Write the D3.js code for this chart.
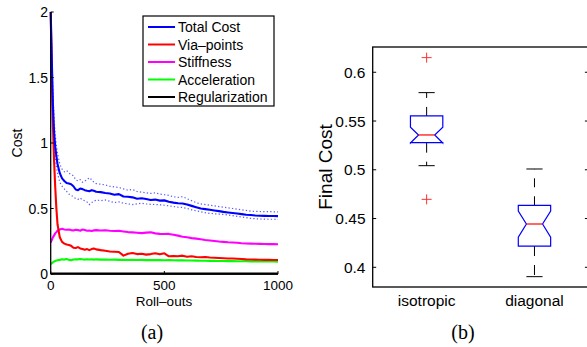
<!DOCTYPE html>
<html>
<head>
<meta charset="utf-8">
<script src="https://cdn.jsdelivr.net/npm/d3@7"></script>
<style>
  body { margin: 0; background: #fff; }
  text { font-family: "Liberation Sans", Arial, sans-serif; fill: #000; }
  .cap { font-family: "Liberation Serif", "DejaVu Serif", serif; }
</style>
</head>
<body>
<svg id="fig" width="587" height="347"></svg>
<script>
// ---- (a) cost over roll-outs ----
const rollouts = [0, 5, 10, 15, 20, 25, 30, 40, 50, 60, 70, 80, 90, 100, 110, 120, 130, 140, 150, 160,
  170, 180, 190, 200, 220, 240, 260, 280, 300, 320, 340, 360, 380, 400, 420, 440, 460, 480, 500, 520,
  540, 560, 580, 600, 620, 640, 660, 680, 700, 720, 740, 760, 780, 800, 820, 840, 860, 880, 900, 920,
  940, 960, 980, 1000];

const totalCost = [2.0, 1.62, 1.28, 1.08, 0.97, 0.9, 0.84, 0.77, 0.73, 0.71, 0.695, 0.69, 0.685, 0.67, 0.645, 0.64, 0.652, 0.648, 0.64, 0.635,
  0.632, 0.64, 0.635, 0.628, 0.625, 0.618, 0.615, 0.605, 0.61, 0.592, 0.59, 0.585, 0.575, 0.578, 0.572, 0.565, 0.568, 0.56, 0.562, 0.552,
  0.545, 0.54, 0.538, 0.53, 0.52, 0.51, 0.5, 0.495, 0.49, 0.485, 0.48, 0.474, 0.47, 0.466, 0.462, 0.457, 0.452, 0.45, 0.447, 0.445,
  0.444, 0.443, 0.443, 0.442];

const totalUpper = [2.0, 1.7, 1.38, 1.18, 1.06, 0.98, 0.92, 0.84, 0.8, 0.78, 0.79, 0.77, 0.76, 0.75, 0.72, 0.71, 0.72, 0.7, 0.71, 0.72,
  0.735, 0.72, 0.7, 0.69, 0.685, 0.68, 0.67, 0.665, 0.66, 0.65, 0.64, 0.645, 0.63, 0.625, 0.62, 0.615, 0.62, 0.61, 0.605, 0.6,
  0.59, 0.585, 0.59, 0.575, 0.56, 0.545, 0.535, 0.53, 0.525, 0.52, 0.515, 0.51, 0.505, 0.5, 0.495, 0.49, 0.485, 0.48, 0.478, 0.477,
  0.476, 0.476, 0.475, 0.474];

const totalLower = [2.0, 1.55, 1.18, 0.99, 0.89, 0.82, 0.77, 0.7, 0.67, 0.65, 0.63, 0.61, 0.6, 0.59, 0.575, 0.57, 0.58, 0.565, 0.56, 0.55,
  0.53, 0.545, 0.555, 0.565, 0.56, 0.565, 0.555, 0.545, 0.55, 0.54, 0.535, 0.53, 0.535, 0.54, 0.535, 0.532, 0.53, 0.528, 0.525, 0.52,
  0.515, 0.51, 0.508, 0.5, 0.49, 0.482, 0.475, 0.468, 0.463, 0.46, 0.457, 0.455, 0.45, 0.445, 0.44, 0.435, 0.43, 0.425, 0.422, 0.42,
  0.419, 0.418, 0.418, 0.417];

const viaPoints = [2.0, 1.5, 1.12, 0.86, 0.66, 0.5, 0.38, 0.28, 0.245, 0.232, 0.225, 0.222, 0.215, 0.2, 0.198, 0.205, 0.195, 0.19, 0.185, 0.19,
  0.182, 0.19, 0.195, 0.188, 0.182, 0.178, 0.172, 0.17, 0.168, 0.14, 0.155, 0.16, 0.152, 0.155, 0.148, 0.152, 0.158, 0.15, 0.158, 0.135,
  0.138, 0.135, 0.14, 0.132, 0.136, 0.13, 0.128, 0.13, 0.126, 0.124, 0.122, 0.12, 0.118, 0.118, 0.116, 0.114, 0.112, 0.111, 0.11, 0.109,
  0.108, 0.108, 0.107, 0.107];

const stiffness = [0.24, 0.26, 0.28, 0.295, 0.31, 0.32, 0.33, 0.34, 0.345, 0.34, 0.338, 0.34, 0.335, 0.332, 0.338, 0.335, 0.33, 0.34, 0.335, 0.33,
  0.332, 0.328, 0.333, 0.335, 0.332, 0.334, 0.33, 0.328, 0.33, 0.325, 0.32, 0.318, 0.315, 0.312, 0.316, 0.318, 0.31, 0.306, 0.305, 0.306,
  0.3, 0.293, 0.285, 0.28, 0.274, 0.27, 0.265, 0.26, 0.256, 0.252, 0.248, 0.245, 0.242, 0.24, 0.238, 0.235, 0.233, 0.232, 0.231, 0.23,
  0.229, 0.228, 0.228, 0.227];

const acceleration = [0.075, 0.082, 0.09, 0.095, 0.1, 0.103, 0.105, 0.108, 0.112, 0.11, 0.115, 0.108, 0.105, 0.11, 0.113, 0.112, 0.115, 0.112, 0.11, 0.113,
  0.111, 0.112, 0.11, 0.112, 0.11, 0.111, 0.109, 0.11, 0.108, 0.109, 0.107, 0.108, 0.107, 0.108, 0.106, 0.107, 0.106, 0.106, 0.105, 0.106,
  0.105, 0.104, 0.104, 0.103, 0.103, 0.102, 0.101, 0.101, 0.1, 0.1, 0.099, 0.099, 0.098, 0.098, 0.097, 0.097, 0.097, 0.096, 0.096, 0.095,
  0.095, 0.095, 0.095, 0.094];

// regularization hugs the x axis, fewer samples are enough
const regRollouts = [0, 100, 200, 300, 400, 500, 600, 700, 800, 900, 1000];
const regularization = [0.004, 0.004, 0.003, 0.003, 0.003, 0.003, 0.003, 0.003, 0.003, 0.003, 0.003];

const legendNames = ['Total Cost', 'Via\u2013points', 'Stiffness', 'Acceleration', 'Regularization'];
const legendColors = ['#0000ff', '#ff0000', '#ff00ff', '#00ff00', '#000000'];

const costTicks = [0, 0.5, 1, 1.5, 2];
const costTickLabels = ['0', '0.5', '1', '1.5', '2'];
const rolloutTicks = [0, 500, 1000];

// ---- (b) final cost boxplots ----
const groups = ['isotropic', 'diagonal'];
const q1 = [0.5278, 0.4218];
const median = [0.5357, 0.4444];
const q3 = [0.5552, 0.4636];
const notchLo = [0.5275, 0.4308];
const notchHi = [0.5436, 0.4577];
const whiskerLo = [0.5042, 0.3904];
const whiskerHi = [0.5791, 0.5008];
const outliers = [[0.615, 0.4697], []];

const finalTicks = [0.4, 0.45, 0.5, 0.55, 0.6];
const finalTickLabels = ['0.4', '0.45', '0.5', '0.55', '0.6'];

const svg = d3.select('#fig');

// ================= plot (a) =================
const xA = d3.scaleLinear().domain([0, 1000]).range([50.7, 278]);
const yA = d3.scaleLinear().domain([0, 2]).range([274, 12]);

const gA = svg.append('g');

const line = d3.line().x(d => xA(d[0])).y(d => yA(d[1]));
const zipped = (xs, ys) => xs.map((x, i) => [x, ys[i]]);

// std bounds (dotted)
[totalUpper, totalLower].forEach(s => {
  gA.append('path')
    .attr('d', line(zipped(rollouts, s)))
    .attr('fill', 'none')
    .attr('stroke', '#5a5aff')
    .attr('stroke-width', 1.2)
    .attr('stroke-dasharray', '1.3,2.2');
});

const series = [
  { vals: acceleration, xs: rollouts, color: '#00ff00' },
  { vals: stiffness, xs: rollouts, color: '#ff00ff' },
  { vals: viaPoints, xs: rollouts, color: '#ff0000' },
  { vals: totalCost, xs: rollouts, color: '#0000ff' },
  { vals: regularization, xs: regRollouts, color: '#000000' },
];
series.forEach(s => {
  gA.append('path')
    .attr('d', line(zipped(s.xs, s.vals)))
    .attr('fill', 'none')
    .attr('stroke', s.color)
    .attr('stroke-width', 2.1)
    .attr('stroke-linejoin', 'round');
});

// axes: only left and bottom lines, ticks pointing inward
gA.append('line').attr('x1', xA(0)).attr('x2', xA(0)).attr('y1', yA(2)).attr('y2', yA(0))
  .attr('stroke', '#000').attr('stroke-width', 1.3);
gA.append('line').attr('x1', xA(0)).attr('x2', xA(1000)).attr('y1', yA(0)).attr('y2', yA(0))
  .attr('stroke', '#000').attr('stroke-width', 1.5);

costTicks.forEach((t, i) => {
  gA.append('line').attr('x1', xA(0)).attr('x2', xA(0) + 3).attr('y1', yA(t)).attr('y2', yA(t))
    .attr('stroke', '#000');
  gA.append('text').attr('x', 48).attr('y', yA(t) + 5)
    .attr('text-anchor', 'end').attr('font-size', 14).text(costTickLabels[i]);
});
rolloutTicks.forEach(t => {
  gA.append('line').attr('x1', xA(t)).attr('x2', xA(t)).attr('y1', yA(0)).attr('y2', yA(0) - 3)
    .attr('stroke', '#000');
  gA.append('text').attr('x', xA(t)).attr('y', 290)
    .attr('text-anchor', 'middle').attr('font-size', 13.5).text(t);
});

gA.append('text').attr('x', 164).attr('y', 305.5).attr('text-anchor', 'middle')
  .attr('font-size', 13.5).text('Roll\u2013outs');
gA.append('text').attr('transform', 'translate(21.5,143) rotate(-90)')
  .attr('text-anchor', 'middle').attr('font-size', 14).text('Cost');

// legend
const leg = gA.append('g');
leg.append('rect').attr('x', 143).attr('y', 16).attr('width', 131).attr('height', 90)
  .attr('fill', '#fff').attr('stroke', '#000').attr('stroke-width', 1.2);
legendNames.forEach((name, i) => {
  const ly = 27 + i * 17.5;
  leg.append('line').attr('x1', 148).attr('x2', 175).attr('y1', ly).attr('y2', ly)
    .attr('stroke', legendColors[i]).attr('stroke-width', 2);
  leg.append('text').attr('x', 178).attr('y', ly + 5).attr('font-size', 14).text(name);
});

svg.append('text').attr('class', 'cap').attr('x', 152).attr('y', 339)
  .attr('text-anchor', 'middle').attr('font-size', 20).text('(a)');

// ================= plot (b) =================
const xB = d3.scaleLinear().domain([0.5, 2.5]).range([372.7, 588.4]);
const yB = d3.scaleLinear().domain([0.3798, 0.6259]).range([287, 47]);
const gB = svg.append('g');

gB.append('rect').attr('x', xB(0.5)).attr('y', yB(0.6259))
  .attr('width', xB(2.5) - xB(0.5)).attr('height', yB(0.3798) - yB(0.6259))
  .attr('fill', 'none').attr('stroke', '#000').attr('stroke-width', 1.3);

finalTicks.forEach((t, i) => {
  gB.append('line').attr('x1', xB(0.5)).attr('x2', xB(0.5) + 3.5).attr('y1', yB(t)).attr('y2', yB(t))
    .attr('stroke', '#000');
  gB.append('line').attr('x1', xB(2.5)).attr('x2', xB(2.5) - 3.5).attr('y1', yB(t)).attr('y2', yB(t))
    .attr('stroke', '#000');
  gB.append('text').attr('x', 365.5).attr('y', yB(t) + 5.5)
    .attr('text-anchor', 'end').attr('font-size', 15.5).text(finalTickLabels[i]);
});

const hw = 0.15; // half box width in x units
groups.forEach((g, i) => {
  const c = i + 1;
  // whiskers (dashed) + caps
  gB.append('line').attr('x1', xB(c)).attr('x2', xB(c)).attr('y1', yB(q3[i])).attr('y2', yB(whiskerHi[i]))
    .attr('stroke', '#000').attr('stroke-dasharray', '9,9');
  gB.append('line').attr('x1', xB(c)).attr('x2', xB(c)).attr('y1', yB(q1[i])).attr('y2', yB(whiskerLo[i]))
    .attr('stroke', '#000').attr('stroke-dasharray', '10,9');
  [whiskerHi[i], whiskerLo[i]].forEach(w => {
    gB.append('line').attr('x1', xB(c - hw / 2)).attr('x2', xB(c + hw / 2)).attr('y1', yB(w)).attr('y2', yB(w))
      .attr('stroke', '#000');
  });

  // notched box
  const pts = [
    [c - hw, q3[i]], [c + hw, q3[i]], [c + hw, notchHi[i]], [c + hw / 2, median[i]],
    [c + hw, notchLo[i]], [c + hw, q1[i]], [c - hw, q1[i]], [c - hw, notchLo[i]],
    [c - hw / 2, median[i]], [c - hw, notchHi[i]]
  ];
  gB.append('path')
    .attr('d', d3.line().x(d => xB(d[0])).y(d => yB(d[1])).curve(d3.curveLinearClosed)(pts))
    .attr('fill', 'none').attr('stroke', '#0000ff').attr('stroke-width', 1.2);
  gB.append('line').attr('x1', xB(c - hw / 2)).attr('x2', xB(c + hw / 2))
    .attr('y1', yB(median[i])).attr('y2', yB(median[i]))
    .attr('stroke', '#ff0000').attr('stroke-width', 1.2);

  outliers[i].forEach(o => {
    const ox = xB(c), oy = yB(o);
    gB.append('path').attr('d', `M${ox - 5},${oy}H${ox + 5}M${ox},${oy - 5}V${oy + 5}`)
      .attr('stroke', '#ff3030').attr('stroke-width', 1);
  });

  gB.append('text').attr('x', xB(c)).attr('y', 306).attr('text-anchor', 'middle')
    .attr('font-size', 15.5).text(g);
});

gB.append('text').attr('transform', 'translate(332,167) rotate(-90)')
  .attr('text-anchor', 'middle').attr('font-size', 19).text('Final Cost');

svg.append('text').attr('class', 'cap').attr('x', 463).attr('y', 339)
  .attr('text-anchor', 'middle').attr('font-size', 20).text('(b)');
</script>
</body>
</html>
